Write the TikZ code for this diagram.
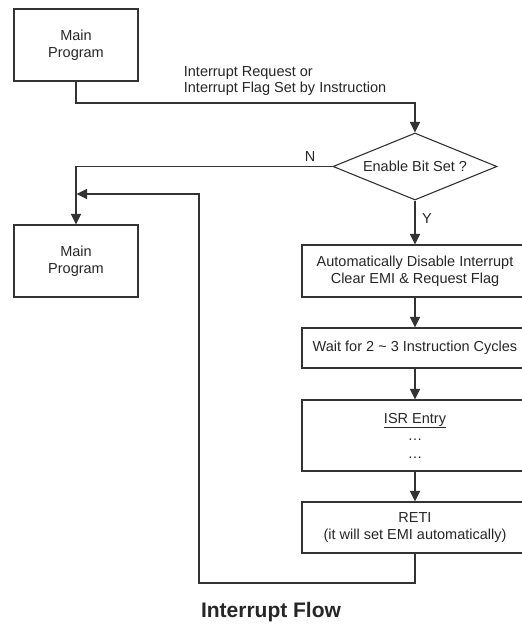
\documentclass[tikz,border=0pt]{standalone}
\usepackage{fontspec}
\setmainfont{Liberation Sans}
\usepackage{tikz}
\usetikzlibrary{shapes.geometric, arrows.meta, positioning, calc}

\begin{document}
\begin{tikzpicture}[
    x=1pt, y=-1pt,
    line width=1.1pt,
    every node/.style={text=black!85, font=\fontsize{14.5}{17}\selectfont},
    pbox/.style={rectangle, draw=black!80, align=center, inner sep=0pt, minimum width=124pt, minimum height=72pt},
    sbox/.style={rectangle, draw=black!80, align=center, inner sep=0pt, minimum width=226pt},
    dec/.style={diamond, draw=black!80, align=center, inner sep=0pt, shape aspect=2.45, minimum width=164pt, minimum height=67pt},
    arr/.style={-{Triangle[length=10.5pt, width=10pt]}, draw=black!80},
    lbl/.style={font=\fontsize{14.5}{16}\selectfont}
]
\useasboundingbox (0,0) rectangle (522,624);

% Nodes
\node[pbox] (mp1) at (76,45) {Main\\Program};
\node[dec] (chk) at (415,166.5) {Enable Bit Set ?};
\node[pbox] (mp2) at (76,261) {Main\\Program};

% Interrupt service steps
\node[sbox, minimum height=52pt] (dis) at (415,271) {Automatically Disable Interrupt\\Clear EMI \& Request Flag};
\node[sbox, minimum height=40pt] (wait) at (415,348) {Wait for 2 \textasciitilde{} 3 Instruction Cycles};
\node[sbox, minimum height=71pt, font=\fontsize{14.5}{17.5}\selectfont] (isr) at (415,435.5) {\underline{ISR Entry}\\\ldots\\\ldots};
\node[sbox, minimum height=51pt] (reti) at (415,527.5) {RETI\\(it will set EMI automatically)};

% Corner points
\coordinate (req) at (76,103);
\coordinate (back) at (199,583);
\coordinate (up) at (199,194);
\coordinate (join) at (76.5,194);

% Transitions
\draw[arr] (mp1.south) -- (req) -| (chk.north);
\node[lbl, anchor=west, align=left] (reqlbl) at (180,81.5) {Interrupt Request or\\Interrupt Flag Set by Instruction};
\draw[arr] (chk.west) -| (mp2.north);
\node[lbl] (nlbl) at (310,157) {N};
\draw[arr] (chk.south) -- (dis.north);
\node[lbl] (ylbl) at (427,219) {Y};
\draw[arr] (dis) -- (wait);
\draw[arr] (wait) -- (isr);
\draw[arr] (isr) -- (reti);
\draw[arr] (reti.south) |- (back) -- (up) -- (join);

% Title
\node[font=\fontsize{21}{24}\selectfont\bfseries] (title) at (271,612) {Interrupt Flow};

\end{tikzpicture}
\end{document}
